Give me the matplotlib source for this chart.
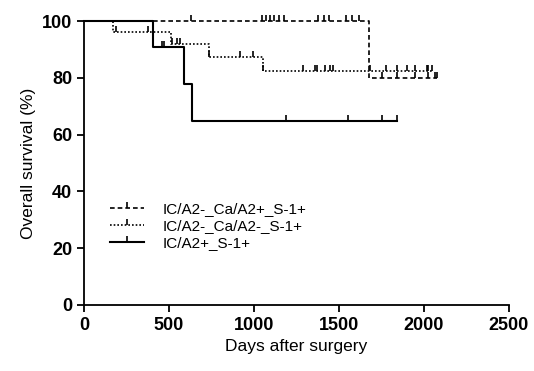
import numpy as np
import matplotlib
matplotlib.use("Agg")
import matplotlib.pyplot as plt
from matplotlib.lines import Line2D

plt.rcParams['font.family'] = ['Liberation Sans', 'DejaVu Sans']

# step curves: times where survival changes, survival after that time
labels = ["IC/A2-_Ca/A2+_S-1+", "IC/A2-_Ca/A2-_S-1+", "IC/A2+_S-1+"]

t_dash = [0, 1676, 2076]
s_dash = [100, 80, 80]
c_dash = [630, 1045, 1070, 1095, 1120, 1150, 1180, 1380, 1410, 1440,
          1540, 1580, 1620, 1751, 1839, 1947, 2025, 2065, 2076]

t_dot = [0, 170, 510, 735, 1051, 2047]
s_dot = [100, 96.1, 91.8, 87.4, 82.4, 82.4]
c_dot = [190, 376, 520, 545, 565, 737, 917, 992, 1051, 1290, 1359, 1370,
         1418, 1447, 1465, 1682, 1780, 1839, 1898, 1947, 2017, 2024, 2047]

t_sol = [0, 404, 590, 637, 1839]
s_sol = [100, 90.9, 77.8, 64.8, 64.8]
c_sol = [457, 470, 1188, 1555, 1751, 1839]


def level_at(t, times, surv):
    idx = np.searchsorted(times, t, side='right') - 1
    return np.array(surv)[idx]


fig = plt.figure(figsize=(5.34, 3.71), dpi=100)
ax = fig.add_axes([0.157, 0.178, 0.796, 0.765])

styles = [
    dict(times=t_dash, surv=s_dash, cens=c_dash, ls=(0, (2.8, 1.8)), lw=1.2),
    dict(times=t_dot, surv=s_dot, cens=c_dot, ls=(0, (1, 1.2)), lw=1.2),
    dict(times=t_sol, surv=s_sol, cens=c_sol, ls='-', lw=1.5),
]

handles = []
for st, lab in zip(styles, labels):
    ax.step(st['times'], st['surv'], where='post', color='black',
            ls=st['ls'], lw=st['lw'], clip_on=False)
    cy = level_at(st['cens'], st['times'], st['surv'])
    ax.plot(st['cens'], cy, ls='none', marker=2, ms=4, mew=1.2,
            color='black', clip_on=False)
    handles.append(Line2D([], [], color='black', ls=st['ls'], lw=st['lw'],
                          marker=2, ms=4, mew=1.2))

ax.legend(handles, labels, loc='upper left', bbox_to_anchor=(0.03, 0.41),
          frameon=False, fontsize=11, handlelength=2.2, handletextpad=1.2,
          labelspacing=0.2, numpoints=1)

ax.set_xlim(0, 2500)
ax.set_ylim(0, 100)
ax.set_xticks(np.arange(0, 2501, 500))
ax.set_yticks(np.arange(0, 101, 20))
for lab in ax.get_xticklabels() + ax.get_yticklabels():
    lab.set_fontweight('bold')
ax.tick_params(labelsize=13, width=1.3, length=5, direction='out')
ax.set_xlabel("Days after surgery", fontsize=12.5)
ax.set_ylabel("Overall survival (%)", fontsize=12.5)

ax.spines['top'].set_visible(False)
ax.spines['right'].set_visible(False)
ax.spines['left'].set_linewidth(1.3)
ax.spines['bottom'].set_linewidth(1.3)

fig.savefig("out.png", dpi=100)
